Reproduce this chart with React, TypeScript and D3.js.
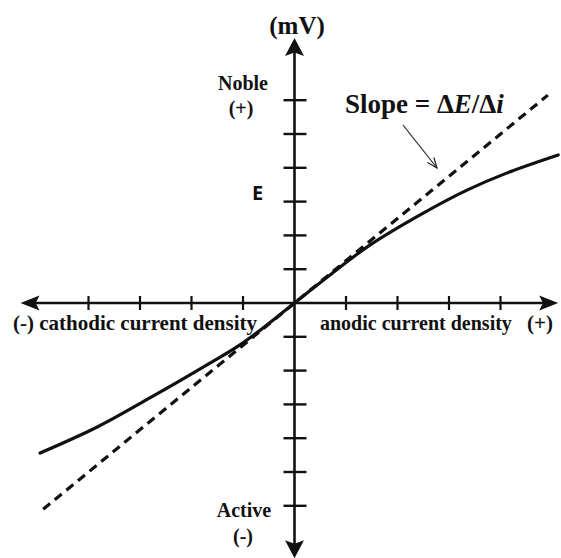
import React from "react";
import * as d3 from "d3";

// Polarization curve sketch: potential E (mV) vs. current density
const W = 561;
const H = 558;

// tick positions along each axis (in tick units)
const currentTicks = [-4, -3, -2, -1, 1, 2, 3, 4];
const potentialTicks = [-6, -5, -4, -3, -2, -1, 1, 2, 3, 4, 5, 6];

// measured polarization curve
const currentDensity = [-4.94, -3.83, -2.81, -1.7, -1.0, 0, 0.69, 1.47, 2.5, 3.35, 4.13, 5.12];
const potential = [-4.44, -3.67, -2.81, -1.83, -1.18, 0, 0.83, 1.72, 2.66, 3.34, 3.85, 4.38];

// linear polarization tangent at the origin
const tangentCurrent = [-4.88, 4.92];
const tangentPotential = [-6.1, 6.15];

// axis extents (tick units)
const xAxisExtent = [-5.32, 5.12];
const yAxisExtent = [-7.55, 7.84];

const SERIF = "'Liberation Serif', 'Times New Roman', serif";
const SANS = "'Open Sans', 'Liberation Sans', sans-serif";

export default function App() {
  const x = d3.scaleLinear().domain([-5, 5]).range([294.5 - 257.5, 294.5 + 257.5]);
  const y = d3.scaleLinear().domain([-6, 6]).range([303 + 202.8, 303 - 202.8]);

  const x0 = x(0);
  const y0 = y(0);

  const curvePts: [number, number][] = currentDensity.map((c, i) => [c, potential[i]]);
  const tangentPts: [number, number][] = tangentCurrent.map((c, i) => [c, tangentPotential[i]]);

  const line = d3
    .line<[number, number]>()
    .x((d) => x(d[0]))
    .y((d) => y(d[1]))
    .curve(d3.curveCatmullRom.alpha(0.5));
  const straight = d3
    .line<[number, number]>()
    .x((d) => x(d[0]))
    .y((d) => y(d[1]));

  const xl = x(xAxisExtent[0]);
  const xr = x(xAxisExtent[1]);
  const yt = y(yAxisExtent[1]);
  const yb = y(yAxisExtent[0]);

  // barbed arrowhead pointing along +x, tip at origin
  const head = (len: number, half: number) =>
    `M0,0 L${-len},${-half} L${-len * 0.8},0 L${-len},${half} Z`;

  // slope annotation pointer
  const ptrFrom = [403, 125];
  const ptrTo = [437, 168];
  const ang = Math.atan2(ptrTo[1] - ptrFrom[1], ptrTo[0] - ptrFrom[0]);
  const hl = 11;
  const ha = 0.38;
  const p1 = [ptrTo[0] - hl * Math.cos(ang - ha), ptrTo[1] - hl * Math.sin(ang - ha)];
  const p2 = [ptrTo[0] - hl * Math.cos(ang + ha), ptrTo[1] - hl * Math.sin(ang + ha)];

  return (
    <svg
      width={W}
      height={H}
      style={{ position: "absolute", left: 0, top: 0, background: "#fff" }}
    >
      <rect width={W} height={H} fill="#fff" />

      {/* axes */}
      <line x1={xl + 10} y1={y0} x2={xr - 10} y2={y0} stroke="#111" strokeWidth={2.6} />
      <line x1={x0} y1={yt + 10} x2={x0} y2={yb - 10} stroke="#111" strokeWidth={2.6} />
      <path d={head(19, 7.5)} transform={`translate(${xr},${y0})`} fill="#111" />
      <path d={head(19, 7.5)} transform={`translate(${xl},${y0}) rotate(180)`} fill="#111" />
      <path d={head(18, 9.5)} transform={`translate(${x0},${yt}) rotate(-90)`} fill="#111" />
      <path d={head(18, 9.5)} transform={`translate(${x0},${yb}) rotate(90)`} fill="#111" />

      {/* ticks */}
      {currentTicks.map((t) => (
        <line key={"xt" + t} x1={x(t)} x2={x(t)} y1={y0 - 7} y2={y0 + 7} stroke="#111" strokeWidth={2.2} />
      ))}
      {potentialTicks.map((t) => (
        <line key={"yt" + t} x1={x0 - 11} x2={x0 + 12} y1={y(t)} y2={y(t)} stroke="#111" strokeWidth={2.4} />
      ))}

      {/* tangent (dashed) and polarization curve */}
      <path
        d={straight(tangentPts) || ""}
        fill="none"
        stroke="#111"
        strokeWidth={3.2}
        strokeDasharray="9 6"
      />
      <path d={line(curvePts) || ""} fill="none" stroke="#111" strokeWidth={3.2} strokeLinecap="round" />

      {/* labels */}
      <g fontFamily={SERIF} fontWeight="bold" fill="#111">
        <text x={297} y={34} fontSize={25} textAnchor="middle">(mV)</text>
        <text x={243} y={90} fontSize={20} textAnchor="middle">Noble</text>
        <text x={241} y={115} fontSize={20} textAnchor="middle">(+)</text>
        <text x={244} y={517} fontSize={20} textAnchor="middle">Active</text>
        <text x={243} y={543} fontSize={20} textAnchor="middle">(-)</text>
        <text x={13} y={330} fontSize={21}>(-) cathodic current density</text>
        <text x={320} y={330} fontSize={20}>anodic current density</text>
        <text x={553} y={330} fontSize={21} textAnchor="end">(+)</text>
        <text x={345} y={113} fontSize={27}>
          Slope = Δ<tspan fontStyle="italic">E</tspan>/Δ<tspan fontStyle="italic">i</tspan>
        </text>
      </g>
      <text x={252} y={200} fontFamily={SANS} fontWeight="bold" fontSize={20} fill="#111">E</text>

      {/* pointer to the tangent */}
      <g stroke="#222" strokeWidth={1.2} fill="none">
        <line x1={ptrFrom[0]} y1={ptrFrom[1]} x2={ptrTo[0]} y2={ptrTo[1]} />
        <polyline points={`${p1[0]},${p1[1]} ${ptrTo[0]},${ptrTo[1]} ${p2[0]},${p2[1]}`} />
      </g>
    </svg>
  );
}
